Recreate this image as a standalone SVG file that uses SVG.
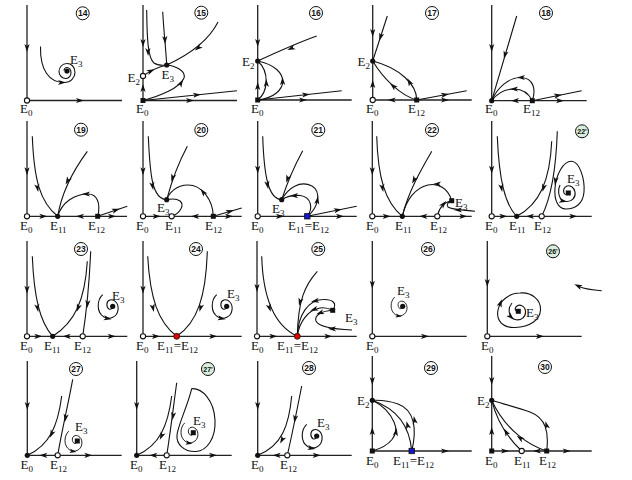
<svg xmlns="http://www.w3.org/2000/svg" xmlns:xlink="http://www.w3.org/1999/xlink" width="632" height="480" viewBox="0 0 632 480">
<style>
.ax{fill:none;stroke:#222;stroke-width:1.3}
.c{fill:none;stroke:#111;stroke-width:1.1}
.lb{font-family:"Liberation Serif","Times New Roman",serif;font-size:13px;fill:#111}
.sb{font-size:9px}
.n{font-family:"Liberation Sans",Arial,sans-serif;font-size:8.5px;font-weight:bold;text-anchor:middle;fill:#111}
.nc{fill:#fff;stroke:#111;stroke-width:1}
.ncg{fill:#d9eedc;stroke:#111;stroke-width:1}
.op{fill:#fff;stroke:#111;stroke-width:1.1}
.fd{fill:#111}
.bl{fill:#1414c8;stroke:#111;stroke-width:.8}
.rd{fill:#e00000;stroke:#111;stroke-width:.8}
.ah{fill:#111}
</style>
<defs>
<path id="a" class="ah" d="M4,0 L-4,-2.6 L-2,0 L-4,2.6 Z"/>
<g id="sp"><path class="c" d="M-10,-11.6 C-15.7,-6.3 -16.7,5.7 -8.7,10.7 C-2.7,13.7 4.3,10.7 5.3,3.7 C6.3,-3.3 1.3,-7.3 -2.7,-6.3 C-6.7,-5.3 -6.7,0.7 -3.7,2.7 C-1.7,3.7 0.3,1.7 0,0"/><use href="#a" transform="translate(-5,12.2) rotate(10)"/></g>
</defs>
<rect width="632" height="480" fill="#fff"/>

<g id="p14">
<path class="ax" d="M27,5V100.5H122"/>
<use href="#a" transform="translate(27,48) rotate(90)"/>
<use href="#a" transform="translate(80,100.5)"/>
<path class="c" d="M40.5,46.5 C40,70 49,82.5 64,82.5 C71,82.5 75,77.5 75,72.5 C75,66.5 71,63.5 67,63.5 C62,63.5 59,67.5 59,71.5 C59,75.5 62,78.5 66,78.5 C69,78.5 71,75.5 71,72.5 C71,69.5 69,67.5 67,67.5 C65,67.5 64,69.5 64,70.5"/>
<use href="#a" transform="translate(62,82.5)"/>
<circle class="fd" cx="67" cy="71" r="2.6"/>
<circle class="op" cx="27" cy="100.5" r="2.6"/>
<text class="lb" x="70" y="64">E<tspan class="sb" dy="3">3</tspan></text>
<text class="lb" x="20" y="113">E<tspan class="sb" dy="3">0</tspan></text>
<circle class="nc" cx="82.7" cy="13.3" r="6.5"/><text class="n" x="82.7" y="16.3">14</text>
</g>

<g id="p15">
<path class="ax" d="M143,5V100.5H237"/>
<use href="#a" transform="translate(143,43) rotate(90)"/>
<use href="#a" transform="translate(143,88) rotate(-90)"/>
<use href="#a" transform="translate(190,100.5)"/>
<path class="c" d="M146.7,10 C147,40 148,58 154,63 C158,66 162,65.5 166.7,65"/>
<use href="#a" transform="translate(148,52) rotate(88)"/>
<path class="c" d="M162.7,11.7 C164,35 166,50 166.7,65"/>
<use href="#a" transform="translate(165,40) rotate(87)"/>
<path class="c" d="M218,22 C210,38 195,52 166.7,65"/>
<use href="#a" transform="translate(198,48) rotate(140)"/>
<path class="c" d="M143,76 C150,71 158,67 166.7,65"/>
<use href="#a" transform="translate(151,71) rotate(-25)"/>
<path class="c" d="M143,100.5 C160,96 180,88 184,78 C186,71 176,66 166.7,65"/>
<use href="#a" transform="translate(181,83) rotate(-60)"/>
<path class="c" d="M143,100.5 L237,90.7"/>
<use href="#a" transform="translate(197,94.8) rotate(-6)"/>
<rect class="fd" x="140.5" y="98" width="5" height="5"/>
<circle class="op" cx="143" cy="76" r="2.6"/>
<circle class="fd" cx="166.7" cy="65" r="2.6"/>
<text class="lb" x="127.5" y="82">E<tspan class="sb" dy="3">2</tspan></text>
<text class="lb" x="161.5" y="79">E<tspan class="sb" dy="3">3</tspan></text>
<text class="lb" x="136" y="113">E<tspan class="sb" dy="3">0</tspan></text>
<circle class="nc" cx="201.3" cy="12.7" r="6.5"/><text class="n" x="201.3" y="15.7">15</text>
</g>

<g id="p16">
<path class="ax" d="M257.7,5V100H351.7"/>
<use href="#a" transform="translate(257.7,43) rotate(90)"/>
<use href="#a" transform="translate(257.7,86) rotate(-90)"/>
<use href="#a" transform="translate(303,100)"/>
<path class="c" d="M316.7,36 C300,42 275,53 257.7,61"/>
<use href="#a" transform="translate(291,48.5) rotate(157)"/>
<path class="c" d="M257.7,100 C268,92 270,72 257.7,61"/>
<use href="#a" transform="translate(266.3,83) rotate(-90)"/>
<path class="c" d="M257.7,100 C290,96 292,68 257.7,61"/>
<use href="#a" transform="translate(282.6,81) rotate(-90)"/>
<path class="c" d="M257.7,100 L341.7,90.7"/>
<use href="#a" transform="translate(306,94.6) rotate(-6)"/>
<rect class="fd" x="255.2" y="97.5" width="5" height="5"/>
<circle class="fd" cx="257.7" cy="61" r="2.6"/>
<text class="lb" x="242" y="66">E<tspan class="sb" dy="3">2</tspan></text>
<text class="lb" x="251" y="113">E<tspan class="sb" dy="3">0</tspan></text>
<circle class="nc" cx="316" cy="13" r="6.5"/><text class="n" x="316" y="16">16</text>
</g>

<g id="p17">
<path class="ax" d="M372.7,5V100H471.7"/>
<use href="#a" transform="translate(372.7,33) rotate(90)"/>
<use href="#a" transform="translate(372.7,84) rotate(-90)"/>
<use href="#a" transform="translate(391.7,100) rotate(180)"/>
<use href="#a" transform="translate(445,100)"/>
<path class="c" d="M387.3,16 L372.7,61"/>
<use href="#a" transform="translate(380.5,37) rotate(108)"/>
<path class="c" d="M416.7,100 C417,85 400,68 372.7,61"/>
<use href="#a" transform="translate(409.2,81.8) rotate(-120)"/>
<path class="c" d="M416.7,100 C402,96 384,80 372.7,61"/>
<use href="#a" transform="translate(393,86) rotate(-138)"/>
<path class="c" d="M416.7,100 L466.7,90.7"/>
<use href="#a" transform="translate(445,94.7) rotate(-10)"/>
<circle class="op" cx="372.7" cy="100" r="2.6"/>
<circle class="fd" cx="372.7" cy="61" r="2.6"/>
<rect class="fd" x="414.2" y="97.5" width="5" height="5"/>
<text class="lb" x="357.5" y="66">E<tspan class="sb" dy="3">2</tspan></text>
<text class="lb" x="366" y="113">E<tspan class="sb" dy="3">0</tspan></text>
<text class="lb" x="408" y="113">E<tspan class="sb" dy="3">12</tspan></text>
<circle class="nc" cx="432" cy="13" r="6.5"/><text class="n" x="432" y="16">17</text>
</g>

<g id="p18">
<path class="ax" d="M491.7,5V100.7H586.7"/>
<use href="#a" transform="translate(491.7,48) rotate(90)"/>
<use href="#a" transform="translate(515,100.7) rotate(180)"/>
<use href="#a" transform="translate(560,100.7)"/>
<path class="c" d="M516.7,16 L491.7,100.7"/>
<use href="#a" transform="translate(505,55) rotate(106)"/>
<path class="c" d="M532.3,100.7 C536,90 534,78 521,77.5 C509,77 497,88 491.7,100.7"/>
<use href="#a" transform="translate(521,77.5) rotate(180)"/>
<path class="c" d="M532.3,100.7 C528,92 522,89 514,89 C504,89 496,95 491.7,100.7"/>
<use href="#a" transform="translate(514,89) rotate(180)"/>
<path class="c" d="M532.3,100.7 L581.7,90.7"/>
<use href="#a" transform="translate(558,95.4) rotate(-11)"/>
<circle class="fd" cx="491.7" cy="100.7" r="2.6"/>
<rect class="fd" x="529.8" y="98.2" width="5" height="5"/>
<text class="lb" x="485" y="113">E<tspan class="sb" dy="3">0</tspan></text>
<text class="lb" x="523" y="113">E<tspan class="sb" dy="3">12</tspan></text>
<circle class="nc" cx="546" cy="13" r="6.5"/><text class="n" x="546" y="16">18</text>
</g>

<g id="p19">
<path class="ax" d="M27,121V216.3H127"/>
<use href="#a" transform="translate(27,171.3) rotate(90)"/>
<use href="#a" transform="translate(43.3,216.3)"/>
<use href="#a" transform="translate(80,216.3) rotate(180)"/>
<use href="#a" transform="translate(112,216.3)"/>
<path class="c" d="M32.3,136.3 C34,180 40,202 57.7,216.3"/>
<use href="#a" transform="translate(37.5,188) rotate(80)"/>
<path class="c" d="M87.3,151.3 C75,168 62,190 57.7,216.3"/>
<use href="#a" transform="translate(67.5,181) rotate(118)"/>
<path class="c" d="M97.7,216.3 C101,203 97,194 88,194 C75,194 62,202 57.7,216.3"/>
<use href="#a" transform="translate(86,194) rotate(180)"/>
<path class="c" d="M97.7,216.3 L127.3,206.3"/>
<use href="#a" transform="translate(116,210.1) rotate(-18)"/>
<circle class="op" cx="27" cy="216.3" r="2.6"/>
<circle class="fd" cx="57.7" cy="216.3" r="2.6"/>
<rect class="fd" x="95.2" y="213.8" width="5" height="5"/>
<text class="lb" x="20" y="229.5">E<tspan class="sb" dy="3">0</tspan></text>
<text class="lb" x="50" y="229.5">E<tspan class="sb" dy="3">11</tspan></text>
<text class="lb" x="88" y="229.5">E<tspan class="sb" dy="3">12</tspan></text>
<circle class="nc" cx="81" cy="129.7" r="6.5"/><text class="n" x="81" y="132.7">19</text>
</g>

<g id="p20">
<path class="ax" d="M143,121V216.3H241.7"/>
<use href="#a" transform="translate(143,171.3) rotate(90)"/>
<use href="#a" transform="translate(156.7,216.3)"/>
<use href="#a" transform="translate(195,216.3) rotate(180)"/>
<use href="#a" transform="translate(229,216.3)"/>
<path class="c" d="M148.3,136.3 C150,175 152,199 166.7,199.7"/>
<use href="#a" transform="translate(152.5,186) rotate(80)"/>
<path class="c" d="M187.3,146.3 C180,160 172,180 166.7,199.7"/>
<use href="#a" transform="translate(172.5,178) rotate(108)"/>
<path class="c" d="M213.3,216.3 C213,200 202,185 188,185 C176,185 169,193 166.7,199.7"/>
<use href="#a" transform="translate(203,192) rotate(-130)"/>
<path class="c" d="M171.7,216.3 C180,213 185,205 180,201 C176,198 170,199 166.7,199.7"/>
<path class="c" d="M213.3,216.3 L241.7,208"/>
<use href="#a" transform="translate(230,211.4) rotate(-16)"/>
<circle class="op" cx="143" cy="216.3" r="2.6"/>
<circle class="op" cx="171.7" cy="216.3" r="2.6"/>
<rect class="fd" x="210.8" y="213.8" width="5" height="5"/>
<circle class="fd" cx="166.7" cy="199.7" r="2.6"/>
<text class="lb" x="157" y="212">E<tspan class="sb" dy="3">3</tspan></text>
<text class="lb" x="136" y="229.5">E<tspan class="sb" dy="3">0</tspan></text>
<text class="lb" x="165" y="229.5">E<tspan class="sb" dy="3">11</tspan></text>
<text class="lb" x="205" y="229.5">E<tspan class="sb" dy="3">12</tspan></text>
<circle class="nc" cx="201.3" cy="130" r="6.5"/><text class="n" x="201.3" y="133">20</text>
</g>

<g id="p21">
<path class="ax" d="M257.7,121V216.3H356.7"/>
<use href="#a" transform="translate(257.7,169.7) rotate(90)"/>
<use href="#a" transform="translate(280,216.3)"/>
<use href="#a" transform="translate(340,216.3)"/>
<path class="c" d="M262.7,136.3 C264,175 268,199 281.7,199.7"/>
<use href="#a" transform="translate(267.5,185) rotate(80)"/>
<path class="c" d="M302.7,150.7 C296,163 288,180 281.7,199.7"/>
<use href="#a" transform="translate(287.5,179) rotate(108)"/>
<path class="c" d="M307.3,216.3 C318,208 322,192 312,186 C300,180 288,188 281.7,199.7"/>
<use href="#a" transform="translate(317.4,200.3) rotate(-80)"/>
<path class="c" d="M307.3,216.3 C313,209 312,197 300,195.5 C292,195 286,197 281.7,199.7"/>
<use href="#a" transform="translate(294,195.7) rotate(178)"/>
<path class="c" d="M307.3,216.3 L356.7,206.3"/>
<use href="#a" transform="translate(338,210) rotate(-11)"/>
<circle class="op" cx="257.7" cy="216.3" r="2.6"/>
<circle class="fd" cx="281.7" cy="199.7" r="2.6"/>
<rect class="bl" x="304.6" y="213.6" width="5.4" height="5.4"/>
<text class="lb" x="272" y="212.5">E<tspan class="sb" dy="3">3</tspan></text>
<text class="lb" x="251" y="229.5">E<tspan class="sb" dy="3">0</tspan></text>
<text class="lb" x="288" y="229.5">E<tspan class="sb" dy="3">11</tspan><tspan dy="-3">=E</tspan><tspan class="sb" dy="3">12</tspan></text>
<circle class="nc" cx="318.3" cy="130" r="6.5"/><text class="n" x="318.3" y="133">21</text>
</g>

<g id="p22">
<path class="ax" d="M372.3,121V216.3H471.7"/>
<use href="#a" transform="translate(372.3,171.3) rotate(90)"/>
<use href="#a" transform="translate(386.7,216.3)"/>
<use href="#a" transform="translate(423.3,216.3) rotate(180)"/>
<use href="#a" transform="translate(463.3,216.3)"/>
<path class="c" d="M376.7,136.3 C378,178 385,202 402.3,216.3"/>
<use href="#a" transform="translate(382.5,188) rotate(80)"/>
<path class="c" d="M431.7,151.3 C422,168 408,192 402.3,216.3"/>
<use href="#a" transform="translate(414,180) rotate(118)"/>
<path class="c" d="M451.7,200.7 C448,188 438,183 428,185 C415,188 406,200 402.3,216.3"/>
<use href="#a" transform="translate(437,184) rotate(180)"/>
<path class="c" d="M437.3,216.3 C439,208 444,202 451.7,200.7"/>
<use href="#a" transform="translate(443.5,204) rotate(-50)"/>
<path class="c" d="M475,211.3 C465,210 452,210 448,207 C446,205 448,202 451.7,200.7"/>
<use href="#a" transform="translate(458,210) rotate(180)"/>
<circle class="op" cx="372.3" cy="216.3" r="2.6"/>
<circle class="fd" cx="402.3" cy="216.3" r="2.6"/>
<circle class="op" cx="437.3" cy="216.3" r="2.6"/>
<rect class="fd" x="449.2" y="198.2" width="5" height="5"/>
<text class="lb" x="366" y="229.5">E<tspan class="sb" dy="3">0</tspan></text>
<text class="lb" x="395" y="229.5">E<tspan class="sb" dy="3">11</tspan></text>
<text class="lb" x="430" y="229.5">E<tspan class="sb" dy="3">12</tspan></text>
<text class="lb" x="455" y="207">E<tspan class="sb" dy="3">3</tspan></text>
<circle class="nc" cx="432" cy="130" r="6.5"/><text class="n" x="432" y="133">22</text>
</g>

<g id="p22p">
<path class="ax" d="M491.7,121V216.3H591.7"/>
<use href="#a" transform="translate(491.7,169.7) rotate(90)"/>
<use href="#a" transform="translate(503.3,216.3)"/>
<use href="#a" transform="translate(530,216.3) rotate(180)"/>
<use href="#a" transform="translate(573.3,216.3)"/>
<path class="c" d="M497.3,136.3 C499,180 505,204 516.7,216.3"/>
<use href="#a" transform="translate(501.5,188) rotate(80)"/>
<path class="c" d="M551.7,141.3 C550,180 540,204 516.7,216.3"/>
<use href="#a" transform="translate(543.5,188) rotate(105)"/>
<path class="c" d="M557.3,131.3 C556,170 550,200 541.7,216.3"/>
<path class="c" d="M571.7,161.3 C580,162 585,180 584,192 C583,204 575,209 566,209 C558,209 554,200 555,188 C556,175 563,161 571.7,161.3 Z"/>
<use href="#a" transform="translate(555.5,181) rotate(100)"/>
<path class="c" d="M560,185 C557,192 559,201 566,201.5 C572,202 576,197 575,192 C574,187 570,185 567,186 C564,187 563,190 564,193 C565,195 568,195 568.3,193"/>
<use href="#a" transform="translate(563,201) rotate(10)"/>
<circle class="op" cx="491.7" cy="216.3" r="2.6"/>
<circle class="fd" cx="516.7" cy="216.3" r="2.6"/>
<circle class="op" cx="541.7" cy="216.3" r="2.6"/>
<rect class="fd" x="565.8" y="190.5" width="5" height="5"/>
<text class="lb" x="567" y="183">E<tspan class="sb" dy="3">3</tspan></text>
<text class="lb" x="485" y="229.5">E<tspan class="sb" dy="3">0</tspan></text>
<text class="lb" x="509" y="229.5">E<tspan class="sb" dy="3">11</tspan></text>
<text class="lb" x="534" y="229.5">E<tspan class="sb" dy="3">12</tspan></text>
<circle class="ncg" cx="582" cy="131.3" r="6.5"/><text class="n" x="582" y="134" style="font-size:7px">22'</text>
</g>

<g id="p23">
<path class="ax" d="M27,241V336.3H127.3"/>
<use href="#a" transform="translate(27,289.7) rotate(90)"/>
<use href="#a" transform="translate(38.3,336.3)"/>
<use href="#a" transform="translate(66.7,336.3) rotate(180)"/>
<use href="#a" transform="translate(111.7,336.3)"/>
<path class="c" d="M32.3,256.3 C34,298 40,322 52.7,336.3"/>
<use href="#a" transform="translate(37.5,308) rotate(80)"/>
<path class="c" d="M87.3,261.3 C85,300 75,322 52.7,336.3"/>
<use href="#a" transform="translate(78,308) rotate(110)"/>
<path class="c" d="M90.7,251.3 C89,290 86,315 82.7,336.3"/>
<use href="#a" transform="translate(87.5,304) rotate(95)"/>
<use href="#sp" transform="translate(112.7,306.3)"/>
<circle class="op" cx="27" cy="336.3" r="2.6"/>
<circle class="fd" cx="52.7" cy="336.3" r="2.6"/>
<circle class="op" cx="82.7" cy="336.3" r="2.6"/>
<circle class="fd" cx="112.7" cy="306.3" r="2.6"/>
<text class="lb" x="112" y="300">E<tspan class="sb" dy="3">3</tspan></text>
<text class="lb" x="20" y="349.5">E<tspan class="sb" dy="3">0</tspan></text>
<text class="lb" x="44" y="349.5">E<tspan class="sb" dy="3">11</tspan></text>
<text class="lb" x="74" y="349.5">E<tspan class="sb" dy="3">12</tspan></text>
<circle class="nc" cx="81" cy="249" r="6.5"/><text class="n" x="81" y="252">23</text>
</g>

<g id="p24">
<path class="ax" d="M143,241V336.3H241.7"/>
<use href="#a" transform="translate(143,289.7) rotate(90)"/>
<use href="#a" transform="translate(156,336.3)"/>
<use href="#a" transform="translate(213.3,336.3)"/>
<path class="c" d="M147.7,256.3 C150,298 158,322 176.7,336.3"/>
<use href="#a" transform="translate(153,308) rotate(78)"/>
<path class="c" d="M207.3,251.3 C206,295 198,322 176.7,336.3"/>
<use href="#a" transform="translate(200.5,308) rotate(105)"/>
<use href="#sp" transform="translate(226.7,306.3)"/>
<circle class="op" cx="143" cy="336.3" r="2.6"/>
<circle class="rd" cx="176.7" cy="336.3" r="3"/>
<circle class="fd" cx="226.7" cy="306.3" r="2.6"/>
<text class="lb" x="227" y="298">E<tspan class="sb" dy="3">3</tspan></text>
<text class="lb" x="136" y="349.5">E<tspan class="sb" dy="3">0</tspan></text>
<text class="lb" x="157" y="349.5">E<tspan class="sb" dy="3">11</tspan><tspan dy="-3">=E</tspan><tspan class="sb" dy="3">12</tspan></text>
<circle class="nc" cx="196" cy="249" r="6.5"/><text class="n" x="196" y="252">24</text>
</g>

<g id="p25">
<path class="ax" d="M257,241V336.3H356.7"/>
<use href="#a" transform="translate(257,288) rotate(90)"/>
<use href="#a" transform="translate(273.3,336.3)"/>
<use href="#a" transform="translate(328.3,336.3)"/>
<path class="c" d="M261.7,256.3 C263,300 275,326 297.3,336.3"/>
<use href="#a" transform="translate(269.5,308) rotate(72)"/>
<path class="c" d="M317.3,271.3 C305,285 298,300 297.3,336.3"/>
<use href="#a" transform="translate(300,302) rotate(105)"/>
<path class="c" d="M297.3,336.3 C298,315 308,300 323,299.5 C332,299 338,303 332.7,310.3"/>
<use href="#a" transform="translate(315,301) rotate(170)"/>
<path class="c" d="M297.3,336.3 C299,322 308,310 320,308 C326,307 330,309 332.7,310.3"/>
<use href="#a" transform="translate(314,309.5) rotate(160)"/>
<path class="c" d="M332.7,310.3 C322,311 314,315 316,321 C318,326 330,329 352,330"/>
<use href="#a" transform="translate(320,313) rotate(160)"/>
<use href="#a" transform="translate(332,328.8) rotate(180)"/>
<circle class="op" cx="257" cy="336.3" r="2.6"/>
<circle class="rd" cx="297.3" cy="336.3" r="3"/>
<rect class="fd" x="330.2" y="307.8" width="5" height="5"/>
<text class="lb" x="345" y="322">E<tspan class="sb" dy="3">3</tspan></text>
<text class="lb" x="251" y="349.5">E<tspan class="sb" dy="3">0</tspan></text>
<text class="lb" x="277" y="349.5">E<tspan class="sb" dy="3">11</tspan><tspan dy="-3">=E</tspan><tspan class="sb" dy="3">12</tspan></text>
<circle class="nc" cx="318.3" cy="249" r="6.5"/><text class="n" x="318.3" y="252">25</text>
</g>

<g id="p26">
<path class="ax" d="M372.3,241V336.3H466.7"/>
<use href="#a" transform="translate(372.3,284.7) rotate(90)"/>
<use href="#a" transform="translate(425,336.3)"/>
<use href="#sp" transform="translate(402.7,306.3) scale(0.8)"/>
<circle class="op" cx="372.3" cy="336.3" r="2.6"/>
<circle class="fd" cx="402.7" cy="306.3" r="2.6"/>
<text class="lb" x="397" y="295">E<tspan class="sb" dy="3">3</tspan></text>
<text class="lb" x="366" y="349.5">E<tspan class="sb" dy="3">0</tspan></text>
<circle class="nc" cx="428" cy="249" r="6.5"/><text class="n" x="428" y="252">26</text>
</g>

<g id="p26p">
<path class="ax" d="M487.3,241V336.3H581.7"/>
<use href="#a" transform="translate(487.3,283) rotate(90)"/>
<use href="#a" transform="translate(540,336.3)"/>
<path class="c" d="M520,293 C532,292 541,300 540.5,310 C540,320 530,327 515,327.5 C502,328 496,320 498,310 C500,300 510,293 520,293 Z"/>
<use href="#a" transform="translate(500.5,303) rotate(-70)"/>
<path class="c" d="M512,303 C507,309 509,318 515,319.5 C521,321 526,317 525.5,311 C525,306 520,304 517,306 C514,308 515,312 518.3,311.3"/>
<use href="#a" transform="translate(511,317) rotate(45)"/>
<path class="c" d="M601.7,290.7 C592,290 585,289 579,286.5"/>
<use href="#a" transform="translate(578,286) rotate(-155)"/>
<circle class="op" cx="487.3" cy="336.3" r="2.6"/>
<rect class="fd" x="515.8" y="308.8" width="5" height="5"/>
<text class="lb" x="526" y="317">E<tspan class="sb" dy="3">3</tspan></text>
<text class="lb" x="481" y="349.5">E<tspan class="sb" dy="3">0</tspan></text>
<circle class="ncg" cx="553" cy="251.3" r="6.5"/><text class="n" x="553" y="254" style="font-size:7px">26'</text>
</g>

<g id="p27">
<path class="ax" d="M27.3,361V455.3H121.7"/>
<use href="#a" transform="translate(27.3,406) rotate(90)"/>
<use href="#a" transform="translate(43.3,455.3) rotate(180)"/>
<use href="#a" transform="translate(88.3,455.3)"/>
<path class="c" d="M61.7,396 C58,425 50,445 27.3,455.3"/>
<use href="#a" transform="translate(51.5,434) rotate(115)"/>
<path class="c" d="M72.7,379.3 C68,405 62,430 57.7,455.3"/>
<use href="#a" transform="translate(65.5,418) rotate(100)"/>
<use href="#sp" transform="translate(77.3,441) scale(0.85)"/>
<circle class="fd" cx="27.3" cy="455.3" r="2.6"/>
<circle class="op" cx="57.7" cy="455.3" r="2.6"/>
<rect class="fd" x="74.8" y="438.5" width="5" height="5"/>
<text class="lb" x="75" y="431">E<tspan class="sb" dy="3">3</tspan></text>
<text class="lb" x="20.5" y="468.5">E<tspan class="sb" dy="3">0</tspan></text>
<text class="lb" x="50" y="468.5">E<tspan class="sb" dy="3">12</tspan></text>
<circle class="nc" cx="76" cy="369" r="6.5"/><text class="n" x="76" y="372">27</text>
</g>

<g id="p27p">
<path class="ax" d="M136.7,361V455.3H231.7"/>
<use href="#a" transform="translate(136.7,406) rotate(90)"/>
<use href="#a" transform="translate(153.3,455.3) rotate(180)"/>
<use href="#a" transform="translate(213,455.3)"/>
<path class="c" d="M171.7,396 C168,425 160,445 136.7,455.3"/>
<use href="#a" transform="translate(161.5,436) rotate(115)"/>
<path class="c" d="M176.7,382.7 C173,410 170,435 166.7,455.3"/>
<use href="#a" transform="translate(173,416) rotate(98)"/>
<path class="c" d="M191.7,388.7 C202,388 214,400 215,420 C216,438 207,451 196,451.5 C184,452 176,444 177,435 C178,425 188,405 191.7,388.7 Z"/>
<use href="#sp" transform="translate(193.3,432.7) scale(0.85)"/>
<circle class="fd" cx="136.7" cy="455.3" r="2.6"/>
<circle class="op" cx="166.7" cy="455.3" r="2.6"/>
<rect class="fd" x="190.8" y="430.2" width="5" height="5"/>
<text class="lb" x="193" y="425">E<tspan class="sb" dy="3">3</tspan></text>
<text class="lb" x="130" y="468.5">E<tspan class="sb" dy="3">0</tspan></text>
<text class="lb" x="159" y="468.5">E<tspan class="sb" dy="3">12</tspan></text>
<circle class="ncg" cx="208" cy="369" r="6.5"/><text class="n" x="208" y="371.7" style="font-size:7px">27'</text>
</g>

<g id="p28">
<path class="ax" d="M257.7,361V455.3H351.7"/>
<use href="#a" transform="translate(257.7,406) rotate(90)"/>
<use href="#a" transform="translate(276.7,455.3) rotate(180)"/>
<use href="#a" transform="translate(316.7,455.3)"/>
<path class="c" d="M291.7,396 C289,425 282,446 257.7,455.3"/>
<use href="#a" transform="translate(282,440) rotate(118)"/>
<path class="c" d="M301.7,386 C297,410 292,435 287.3,455.3"/>
<use href="#a" transform="translate(295,419) rotate(100)"/>
<use href="#sp" transform="translate(316.7,436)"/>
<circle class="fd" cx="257.7" cy="455.3" r="2.6"/>
<circle class="op" cx="287.3" cy="455.3" r="2.6"/>
<circle class="fd" cx="316.7" cy="436" r="2.6"/>
<text class="lb" x="317" y="427">E<tspan class="sb" dy="3">3</tspan></text>
<text class="lb" x="251" y="468.5">E<tspan class="sb" dy="3">0</tspan></text>
<text class="lb" x="280" y="468.5">E<tspan class="sb" dy="3">12</tspan></text>
<circle class="nc" cx="309" cy="368" r="6.5"/><text class="n" x="309" y="371">28</text>
</g>

<g id="p29">
<path class="ax" d="M372.3,356V451H471.7"/>
<use href="#a" transform="translate(372.3,381) rotate(90)"/>
<use href="#a" transform="translate(372.3,431) rotate(-90)"/>
<use href="#a" transform="translate(445,451)"/>
<path class="c" d="M372.3,451 C390,446 400,435 394,422 C390,413 382,405 372.3,400.3"/>
<use href="#a" transform="translate(396,432) rotate(-80)"/>
<path class="c" d="M411.7,451 C410,430 400,410 372.3,400.3"/>
<use href="#a" transform="translate(407.5,425) rotate(-105)"/>
<path class="c" d="M411.7,451 C417,430 415,410 398,404 C390,401 380,400 372.3,400.3"/>
<use href="#a" transform="translate(414.5,420) rotate(-100)"/>
<rect class="fd" x="369.8" y="448.5" width="5" height="5"/>
<circle class="fd" cx="372.3" cy="400.3" r="2.6"/>
<rect class="bl" x="409" y="448.3" width="5.4" height="5.4"/>
<text class="lb" x="357" y="404.5">E<tspan class="sb" dy="3">2</tspan></text>
<text class="lb" x="366" y="464.5">E<tspan class="sb" dy="3">0</tspan></text>
<text class="lb" x="393" y="464.5">E<tspan class="sb" dy="3">11</tspan><tspan dy="-3">=E</tspan><tspan class="sb" dy="3">12</tspan></text>
<circle class="nc" cx="431" cy="368" r="6.5"/><text class="n" x="431" y="371">29</text>
</g>

<g id="p30">
<path class="ax" d="M491.7,356V451H591.7"/>
<use href="#a" transform="translate(491.7,381) rotate(90)"/>
<use href="#a" transform="translate(491.7,431) rotate(-90)"/>
<use href="#a" transform="translate(505,451)"/>
<use href="#a" transform="translate(537,451) rotate(180)"/>
<use href="#a" transform="translate(566.7,451)"/>
<path class="c" d="M546.7,451 C549,432 546,418 530,412 C515,407 500,403 491.7,400.3"/>
<use href="#a" transform="translate(546.5,425) rotate(-105)"/>
<path class="c" d="M546.7,451 C530,446 505,430 491.7,400.3"/>
<use href="#a" transform="translate(520,438) rotate(-145)"/>
<path class="c" d="M521.7,451 C510,440 498,425 491.7,400.3"/>
<use href="#a" transform="translate(506,432) rotate(-120)"/>
<rect class="fd" x="489.2" y="448.5" width="5" height="5"/>
<circle class="fd" cx="491.7" cy="400.3" r="2.6"/>
<circle class="op" cx="521.7" cy="451" r="2.6"/>
<rect class="fd" x="544.2" y="448.5" width="5" height="5"/>
<text class="lb" x="477" y="404.5">E<tspan class="sb" dy="3">2</tspan></text>
<text class="lb" x="485" y="464.5">E<tspan class="sb" dy="3">0</tspan></text>
<text class="lb" x="514" y="464.5">E<tspan class="sb" dy="3">11</tspan></text>
<text class="lb" x="539" y="464.5">E<tspan class="sb" dy="3">12</tspan></text>
<circle class="nc" cx="545" cy="367" r="6.5"/><text class="n" x="545" y="370">30</text>
</g>
</svg>
